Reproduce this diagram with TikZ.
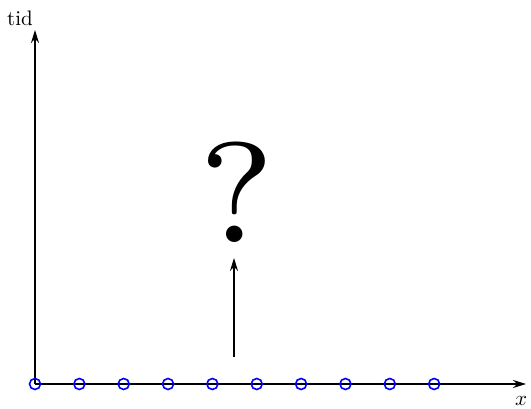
\documentclass[tikz,border=0pt]{standalone}
\usetikzlibrary{arrows.meta}
\begin{document}
\begin{tikzpicture}[x=1pt,y=-1pt,
  axis/.style={line width=1.6pt,-{Stealth[length=13pt,width=8pt]}},
  pt/.style={circle,draw=blue,line width=1.6pt,minimum size=11pt,inner sep=0pt},
  lbl/.style={inner sep=0pt}]
\useasboundingbox (0,0) rectangle (531,409);
\coordinate (o) at (35,384);
\coordinate (ytip) at (35,30);
\coordinate (xtip) at (526,384);
\draw[axis] (o) -- (ytip);
\draw[axis] (o) -- (xtip);
\foreach \i in {0,...,9} {
  \node[pt] (p\i) at ({35+44.35*\i},384) {};
}
\node[lbl] (tid) at (20,18) {\scalebox{2.1}{tid}};
\node[lbl] (xl) at (521,401) {\scalebox{2.1}{$x$}};
\coordinate (a0) at (234,357);
\coordinate (a1) at (234,258);
\draw[axis] (a0) -- (a1);
\node[inner sep=0pt,anchor=base] (q) at (237,243) {\scalebox{20.4}{\fontsize{7}{8}\selectfont ?}};
\end{tikzpicture}
\end{document}
